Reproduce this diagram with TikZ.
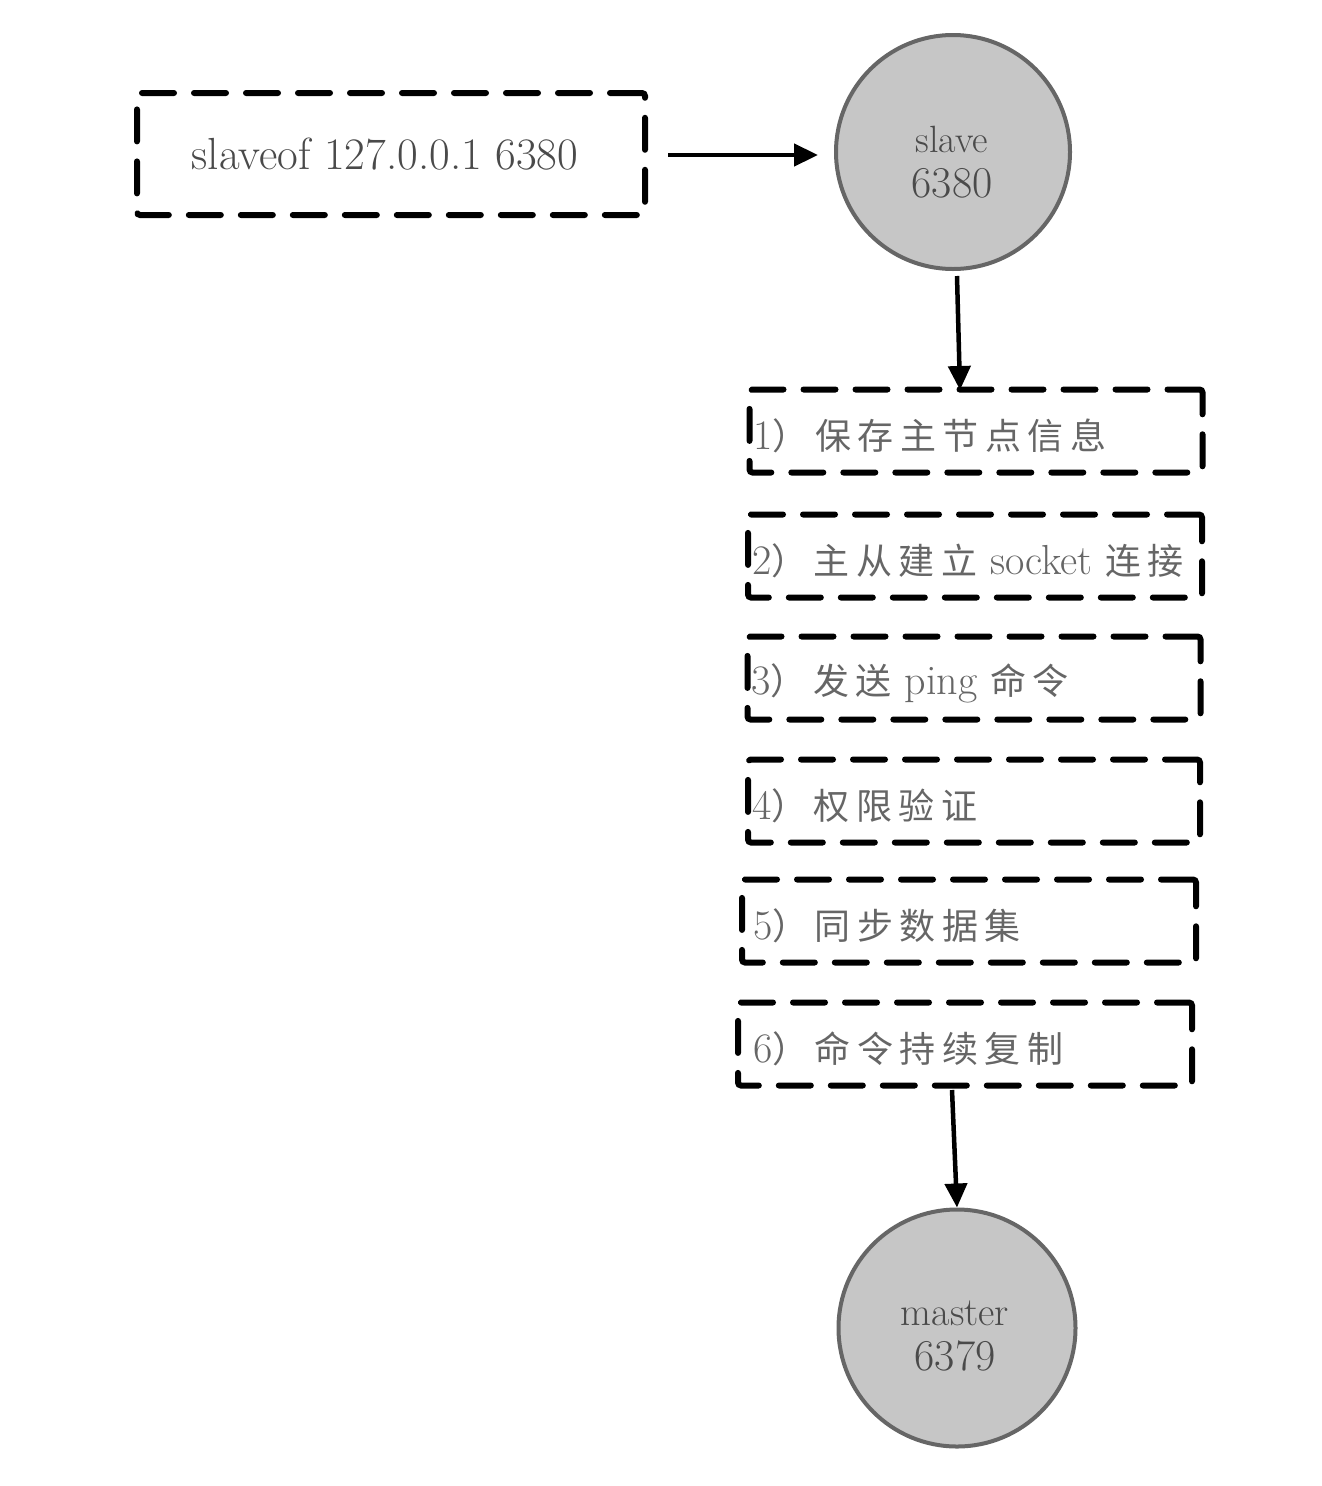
\documentclass[tikz,border=0pt]{standalone}
\usepackage{fontspec}
\newfontfamily\cjk[LetterSpace=18]{Noto Sans CJK SC}
\usetikzlibrary{arrows.meta}
\definecolor{circfill}{HTML}{C6C6C6}
\definecolor{circline}{HTML}{666666}
\definecolor{txtgray}{HTML}{4A4A4A}
\definecolor{cjkgray}{HTML}{666666}
\tikzset{
  dbox/.style={draw=black, line width=6pt, dash pattern=on 32pt off 20pt, line cap=round, rounded corners=3pt, inner sep=0pt},
  circnode/.style={circle, draw=circline, fill=circfill, line width=4pt, inner sep=0pt},
  circtext/.style={inner sep=0pt, align=center, text=txtgray, font=\fontsize{44}{45}\selectfont},
  arr/.style={draw=black, line width=4.5pt, -{Triangle[length=24pt,width=22pt]}},
  steptext/.style={anchor=west, inner sep=0pt, text=cjkgray},
}
\newcommand\zh[1]{{\cjk\fontsize{36}{40}\selectfont #1}}
\newcommand\en[1]{{\fontsize{42}{44}\selectfont #1}}
\begin{document}
\begin{tikzpicture}[x=1pt,y=-1pt]
\useasboundingbox (0,0) rectangle (1322,1486);
\fill[white] (0,0) rectangle (1322,1486);

\node[dbox, minimum width=508, minimum height=122] (cmd) at (391,154) {};
\node[inner sep=0pt, text=txtgray] (cmdt) at (385,154) {\fontsize{45}{48}\selectfont slaveof 127.0.0.1 6380};

\node[circnode, minimum size=234] (slave) at (953,152) {};
\node[circtext] (slavet) at (952,162) {{\fontsize{38}{40}\selectfont slave}\\{6380}};
\node[circnode, minimum size=237] (master) at (957,1328) {};
\node[circtext] (mastert) at (955,1336) {{\fontsize{40}{42}\selectfont master}\\{6379}};

\node[dbox, minimum width=453, minimum height=83] (b1) at (976,431) {};
\node[dbox, minimum width=454, minimum height=83] (b2) at (975,556) {};
\node[dbox, minimum width=453, minimum height=83] (b3) at (974,678) {};
\node[dbox, minimum width=452, minimum height=83] (b4) at (974,801) {};
\node[dbox, minimum width=454, minimum height=83] (b5) at (969,921) {};
\node[dbox, minimum width=454, minimum height=83] (b6) at (965,1044) {};

\node[steptext] (t1) at ([xshift=7pt,yshift=-5pt]b1.west) {\en{1}\zh{）保存主节点信息}};
\node[steptext] (t2) at ([xshift=7pt,yshift=-5pt]b2.west) {\en{2}\zh{）主从建立}\en{ socket }\zh{连接}};
\node[steptext] (t3) at ([xshift=7pt,yshift=-5pt]b3.west) {\en{3}\zh{）发送}\en{ ping }\zh{命令}};
\node[steptext] (t4) at ([xshift=7pt,yshift=-5pt]b4.west) {\en{4}\zh{）权限验证}};
\node[steptext] (t5) at ([xshift=14pt,yshift=-5pt]b5.west) {\en{5}\zh{）同步数据集}};
\node[steptext] (t6) at ([xshift=18pt,yshift=-5pt]b6.west) {\en{6}\zh{）命令持续复制}};

\coordinate (a1s) at (668,155);
\coordinate (a1e) at (818,155);
\coordinate (a2s) at (957,276);
\coordinate (a2e) at (960,390);
\coordinate (a3s) at (952,1090);

\draw[arr] (a1s) -- (a1e);
\draw[arr] (a2s) -- (a2e);
\draw[arr] (a3s) -- (master.north);
\end{tikzpicture}
\end{document}
